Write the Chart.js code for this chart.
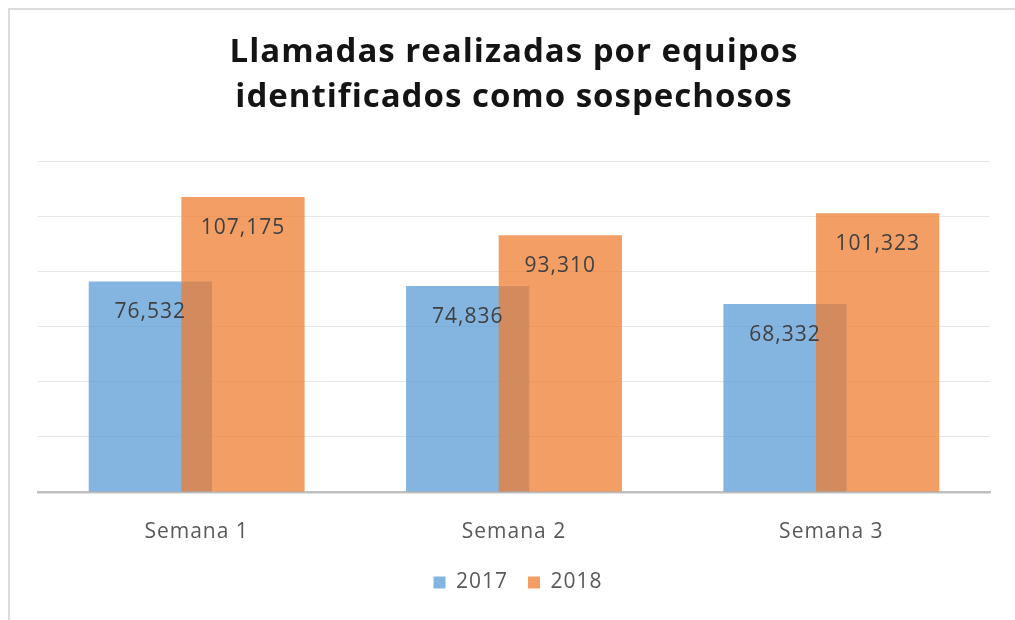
<!DOCTYPE html>
<html>
<head>
<meta charset="utf-8">
<script src="https://cdn.jsdelivr.net/npm/chart.js@4.4.1/dist/chart.umd.min.js"></script>
<style>
  body { margin: 0; background: #fff; }
  #wrap { position: relative; width: 1015px; height: 620px; }
  #frame { position: absolute; left: 8px; top: 8px; right: 0; bottom: 0;
           border-top: 2px solid #dcdcdc; border-left: 2px solid #dcdcdc; }
  canvas { position: absolute; left: 0; top: 0; }
</style>
</head>
<body>
<div id="wrap">
  <div id="frame"></div>
  <canvas id="chart" width="1015" height="620"></canvas>
</div>
<script>
// chart data
const semanas = ["Semana 1", "Semana 2", "Semana 3"];
const llamadas2017 = [76532, 74836, 68332];
const llamadas2018 = [107175, 93310, 101323];
const yTicks = [0, 20000, 40000, 60000, 80000, 100000, 120000];

const fontFam = "'Open Sans', sans-serif";

// slightly wider text, like the original
const spacing = {
  id: "spacing",
  beforeDraw(chart) { chart.ctx.letterSpacing = "1px"; }
};

// draw datasets first-to-last so 2018 sits on top of 2017
const drawOrder = {
  id: "drawOrder",
  beforeDatasetsDraw(chart) {
    chart.getSortedVisibleDatasetMetas().forEach(meta => meta.controller.draw());
    return false;
  }
};

// value labels inside the top of each bar
const barLabels = {
  id: "barLabels",
  afterDraw(chart) {
    const ctx = chart.ctx;
    ctx.save();
    ctx.font = "21px " + fontFam;
    ctx.fillStyle = "#404040";
    ctx.textAlign = "center";
    ctx.textBaseline = "middle";
    chart.getSortedVisibleDatasetMetas().forEach(meta => {
      meta.data.forEach((bar, i) => {
        const v = chart.data.datasets[meta.index].data[i];
        ctx.fillText(v.toLocaleString("en-US"), bar.x, bar.y + 31);
      });
    });
    ctx.restore();
  }
};

new Chart(document.getElementById("chart"), {
  type: "bar",
  data: {
    labels: semanas,
    datasets: [
      {
        label: "2017",
        data: llamadas2017,
        backgroundColor: "rgba(91,155,213,0.75)"
      },
      {
        label: "2018",
        data: llamadas2018,
        backgroundColor: "rgba(237,125,49,0.75)"
      }
    ]
  },
  options: {
    responsive: false,
    animation: false,
    categoryPercentage: 0.584,
    barPercentage: 1.33,
    layout: { padding: { left: 38, right: 25, top: 8, bottom: 17 } },
    plugins: {
      title: {
        display: true,
        text: ["Llamadas realizadas por equipos", "identificados como sospechosos"],
        color: "#141414",
        font: { family: fontFam, size: 33, weight: "bold", lineHeight: 1.36 },
        padding: { top: 22, bottom: 42 }
      },
      legend: {
        position: "bottom",
        labels: {
          color: "#595959",
          font: { family: fontFam, size: 21 },
          boxWidth: 12,
          boxHeight: 12,
          padding: 20
        }
      },
      tooltip: { enabled: false }
    },
    scales: {
      x: {
        grid: { display: false, drawTicks: false },
        border: { color: "#bfbfbf", width: 2.5 },
        ticks: { color: "#595959", font: { family: fontFam, size: 21 }, padding: 27 },
        afterFit(scale) { scale.height = 60; }
      },
      y: {
        min: 0,
        max: 120000,
        afterBuildTicks(scale) { scale.ticks = yTicks.map(v => ({ value: v })); },
        grid: { color: "#e6e6e6", lineWidth: 1, drawTicks: false },
        border: { display: false },
        ticks: { display: false }
      }
    }
  },
  plugins: [spacing, drawOrder, barLabels]
});
</script>
</body>
</html>
